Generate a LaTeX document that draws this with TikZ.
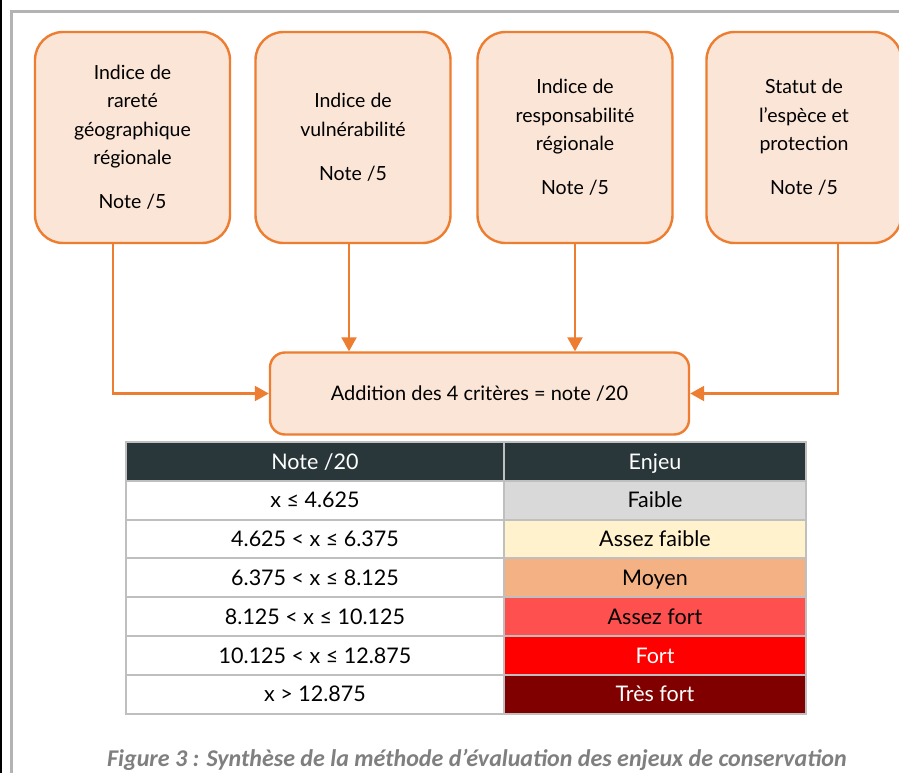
\documentclass[tikz,border=0pt]{standalone}
\usepackage{fontspec}
\setmainfont{Lato}
\newfontfamily\capfont{Carlito}
\usetikzlibrary{arrows.meta}
\definecolor{boxfill}{HTML}{FBE5D6}
\definecolor{boxdraw}{HTML}{ED7D31}
\definecolor{headfill}{HTML}{29373A}
\definecolor{gridgray}{HTML}{BFBFBF}
\definecolor{framegray}{HTML}{B3B3B3}
\definecolor{capgray}{HTML}{7F7F7F}
\definecolor{cFaible}{HTML}{D9D9D9}
\definecolor{cAssezFaible}{HTML}{FFF2CC}
\definecolor{cMoyen}{HTML}{F4B183}
\definecolor{cAssezFort}{HTML}{FF5050}
\definecolor{cFort}{HTML}{FF0000}
\definecolor{cTresFort}{HTML}{800000}
\tikzset{
  critbox/.style={draw=boxdraw, fill=boxfill, line width=2.4pt, rounded corners=28pt,
    minimum width=195pt, minimum height=211pt, align=center, inner sep=0pt,
    font=\fontsize{19.5}{28.5}\selectfont},
  addbox/.style={draw=boxdraw, fill=boxfill, line width=2.4pt, rounded corners=15pt,
    minimum width=419pt, minimum height=82pt, inner sep=0pt,
    font=\fontsize{20}{24}\selectfont},
  flow/.style={draw=boxdraw, line width=2.2pt, -{Triangle[length=14pt,width=15pt]}},
  cell/.style={minimum height=38.8pt, inner sep=0pt, text height=17pt, text depth=2pt,
    font=\fontsize{21.5}{24}\selectfont},
  leftcell/.style={cell, minimum width=378pt},
  rightcell/.style={cell, minimum width=302pt},
  gridline/.style={draw=gridgray, line width=2pt},
}
\begin{document}
\begin{tikzpicture}[x=1pt,y=-1pt]
\useasboundingbox (0,0) rectangle (899,773);
\clip (0,0) rectangle (899,773);
\fill[white] (0,0) rectangle (899,773);
% frame
\draw[black, line width=2.5pt] (1.2,0) -- (1.2,773);
\draw[framegray, line width=3pt] (11.5,773) -- (11.5,11.5) -- (905,11.5);

% criteria boxes
\node[critbox] (b1) at (132.5,137.5) {Indice de\\rareté\\géographique\\régionale\\[15.5pt]Note /5};
\node[critbox] (b2) at (353,137.5) {Indice de\\vulnérabilité\\[15.5pt]Note /5};
\node[critbox] (b3) at (575,137.5) {Indice de\\responsabilité\\régionale\\[15.5pt]Note /5};
\node[critbox] (b4) at (804,137.5) {Statut de\\l’espèce et\\protection\\[15.5pt]Note /5};

% addition box
\node[addbox] (add) at (479.5,393.5) {Addition des 4 critères = note /20};

% connectors
\draw[flow] ([xshift=-19.5pt]b1.south) |- (add.west);
\draw[flow] ([xshift=-4pt]b2.south) -- ([xshift=-4pt]b2.south |- add.north);
\draw[flow] (b3.south) -- (b3.south |- add.north);
\draw[flow] ([xshift=34pt]b4.south) |- (add.east);

% table
\node[leftcell, fill=headfill, text=white] (h1) at (315,462) {Note /20};
\node[rightcell, fill=headfill, text=white] (h2) at (655,462) {Enjeu};
\node[leftcell, fill=white] (r1a) at (315,500.4) {x ≤ 4.625};
\node[rightcell, fill=cFaible] (r1b) at (655,500.4) {Faible};
\node[leftcell, fill=white] (r2a) at (315,539.2) {4.625 < x ≤ 6.375};
\node[rightcell, fill=cAssezFaible] (r2b) at (655,539.2) {Assez faible};
\node[leftcell, fill=white] (r3a) at (315,578) {6.375 < x ≤ 8.125};
\node[rightcell, fill=cMoyen] (r3b) at (655,578) {Moyen};
\node[leftcell, fill=white] (r4a) at (315,616.8) {8.125 < x ≤ 10.125};
\node[rightcell, fill=cAssezFort] (r4b) at (655,616.8) {Assez fort};
\node[leftcell, fill=white] (r5a) at (315,655.6) {10.125 < x ≤ 12.875};
\node[rightcell, fill=cFort, text=white] (r5b) at (655,655.6) {Fort};
\node[leftcell, fill=white] (r6a) at (315,694.4) {x > 12.875};
\node[rightcell, fill=cTresFort, text=white] (r6b) at (655,694.4) {Très fort};
% grid
\draw[gridline] (h1.north west) rectangle (r6b.south east);
\draw[gridline] (h1.north east) -- (r6a.south east);
\foreach \r in {r1a,r2a,r3a,r4a,r5a,r6a}
  \draw[gridline] (\r.north west) -- (\r.north west -| h2.east);

% caption
\node[font=\capfont\bfseries\itshape\fontsize{24}{28}\selectfont, text=capgray] (cap) at (477,760)
  {Figure 3 : Synthèse de la méthode d’évaluation des enjeux de conservation};
\end{tikzpicture}
\end{document}
